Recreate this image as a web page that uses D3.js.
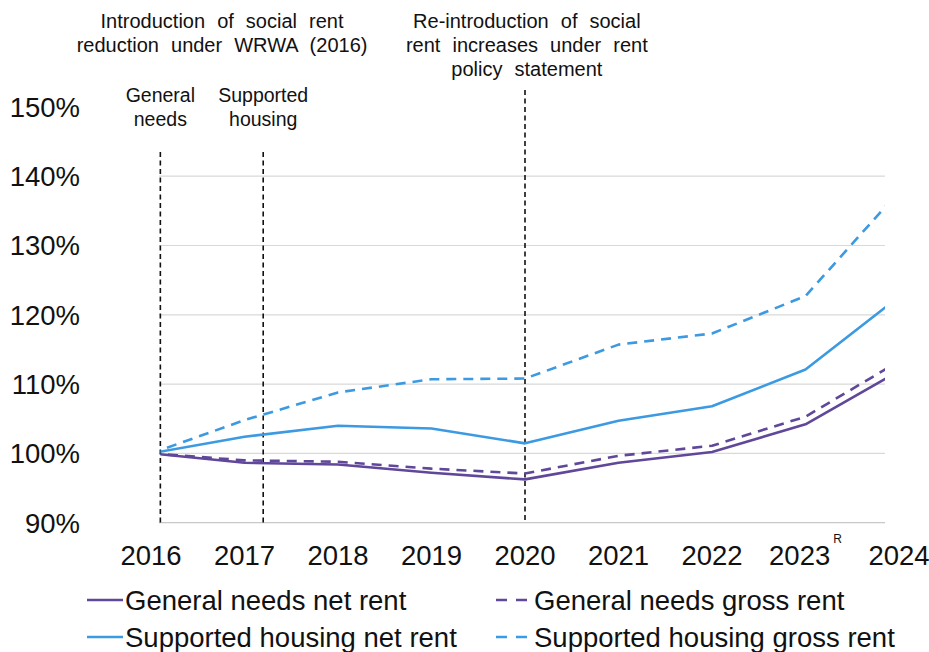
<!DOCTYPE html>
<html>
<head>
<meta charset="utf-8">
<script src="https://cdn.jsdelivr.net/npm/d3@7"></script>
<style>
  html, body { margin: 0; padding: 0; background: #fff; }
  svg { display: block; }
  text { font-family: "Liberation Sans", Arial, sans-serif; fill: #111; }
</style>
</head>
<body>
<svg id="chart" width="929" height="652"></svg>
<script>
// ---- data ----
const years = [2016, 2017, 2018, 2019, 2020, 2021, 2022, 2023, 2024];
const tickLabels = ["2016", "2017", "2018", "2019", "2020", "2021", "2022", "2023", "2024"];
const tickNotes = { "2023": "R" };
const yTicks = [90, 100, 110, 120, 130, 140, 150];
const gridTicks = [100, 110, 120, 130, 140];

const generalNeedsNet   = [100, 98.65, 98.4, 97.2, 96.25, 98.65, 100.2, 104.2, 111.9];
const generalNeedsGross = [100, 99.0, 98.8, 97.8, 97.1, 99.65, 101.1, 105.3, 113.3];
const supportedNet      = [100, 102.4, 104.0, 103.6, 101.45, 104.7, 106.8, 112.1, 122.6];
const supportedGross    = [100, 104.8, 108.8, 110.7, 110.8, 115.7, 117.3, 122.7, 137.8];

const seriesNames = ["General needs net rent", "General needs gross rent",
                     "Supported housing net rent", "Supported housing gross rent"];

// annotation markers (year positions) and their texts
const markerYears = [2016.1, 2017.2, 2020];
const markerTops = [152, 152, 90];
const markerTexts = [["General", "needs"], ["Supported", "housing"], []];
const headerTexts = [
  { at: 2016.76, lines: ["Introduction of social rent", "reduction under WRWA (2016)"] },
  { at: 2020.02, lines: ["Re-introduction of social", "rent increases under rent", "policy statement"] }
];

// ---- styles ----
const purple = "#60479a";
const blue = "#3b9ae1";
const series = [
  { name: seriesNames[0], values: generalNeedsNet,   color: purple, dash: null },
  { name: seriesNames[1], values: generalNeedsGross, color: purple, dash: "10,7" },
  { name: seriesNames[2], values: supportedNet,      color: blue,   dash: null },
  { name: seriesNames[3], values: supportedGross,    color: blue,   dash: "10,7" }
];

const svg = d3.select("#chart");
const plotLeft = 159, plotRight = 885;

const x = d3.scaleLinear().domain([2016, 2024]).range([151, 899]);
const y = d3.scaleLinear().domain([90, 150]).range([522.7, 106.9]);

// clip for plot lines
svg.append("defs").append("clipPath").attr("id", "plotclip")
  .append("rect").attr("x", plotLeft + 1.5).attr("y", 0)
  .attr("width", plotRight - plotLeft - 1.5).attr("height", 560);

// gridlines
svg.append("g").selectAll("line").data(gridTicks).join("line")
  .attr("x1", plotLeft).attr("x2", plotRight)
  .attr("y1", d => y(d)).attr("y2", d => y(d))
  .attr("stroke", "#d9d9d9").attr("stroke-width", 1.2);

// baseline axis
svg.append("line")
  .attr("x1", plotLeft).attr("x2", plotRight)
  .attr("y1", y(90)).attr("y2", y(90))
  .attr("stroke", "#c8c8c8").attr("stroke-width", 1.2);

// y labels
svg.append("g").selectAll("text").data(yTicks).join("text")
  .attr("x", 80).attr("y", d => y(d)).attr("dy", "0.36em")
  .attr("text-anchor", "end").attr("font-size", 27.5)
  .text(d => d + "%");

// x labels
const xl = svg.append("g").selectAll("text").data(years).join("text")
  .attr("x", d => x(d)).attr("y", 565)
  .attr("text-anchor", "middle").attr("font-size", 27.5);
xl.append("tspan").text((d, i) => tickLabels[i]);
xl.filter((d, i) => tickNotes[tickLabels[i]])
  .append("tspan").attr("font-size", 12).attr("dy", -22).attr("dx", 3)
  .text(d => tickNotes[tickLabels[years.indexOf(d)]]);

// vertical marker lines
svg.append("g").selectAll("line").data(markerYears).join("line")
  .attr("x1", d => x(d)).attr("x2", d => x(d))
  .attr("y1", (d, i) => markerTops[i]).attr("y2", y(90))
  .attr("stroke", "#111").attr("stroke-width", 1.6)
  .attr("stroke-dasharray", "5,3.5");

// marker labels
markerYears.forEach((m, i) => {
  markerTexts[i].forEach((t, j) => {
    svg.append("text").attr("x", x(m)).attr("y", 102 + j * 24)
      .attr("text-anchor", "middle").attr("font-size", 19.5)
      .text(t);
  });
});

// header annotations
headerTexts.forEach(h => {
  h.lines.forEach((t, j) => {
    svg.append("text").attr("x", x(h.at)).attr("y", 28 + j * 24)
      .attr("text-anchor", "middle").attr("font-size", 20)
      .attr("word-spacing", 6.5)
      .text(t);
  });
});

// lines
const line = d3.line().x((d, i) => x(years[i])).y(d => y(d));
svg.append("g").attr("clip-path", "url(#plotclip)")
  .selectAll("path").data(series).join("path")
  .attr("d", d => line(d.values))
  .attr("fill", "none")
  .attr("stroke", d => d.color)
  .attr("stroke-width", 2.6)
  .attr("stroke-dasharray", d => d.dash)
  .attr("stroke-linejoin", "round");

// legend
const legendPos = [
  { lx: 87, ty: 600 }, { lx: 496, ty: 600 },
  { lx: 87, ty: 637 }, { lx: 496, ty: 637 }
];
const lg = svg.append("g").selectAll("g").data(series).join("g")
  .attr("transform", (d, i) => `translate(${legendPos[i].lx},${legendPos[i].ty})`);
lg.append("line")
  .attr("x1", 0).attr("x2", 36).attr("y1", 0).attr("y2", 0)
  .attr("stroke", d => d.color).attr("stroke-width", 2.6)
  .attr("stroke-dasharray", d => d.dash ? "11,9" : null);
lg.append("text")
  .attr("x", 38).attr("y", 0).attr("dy", "0.36em")
  .attr("font-size", 27.5)
  .text(d => d.name);
</script>
</body>
</html>
